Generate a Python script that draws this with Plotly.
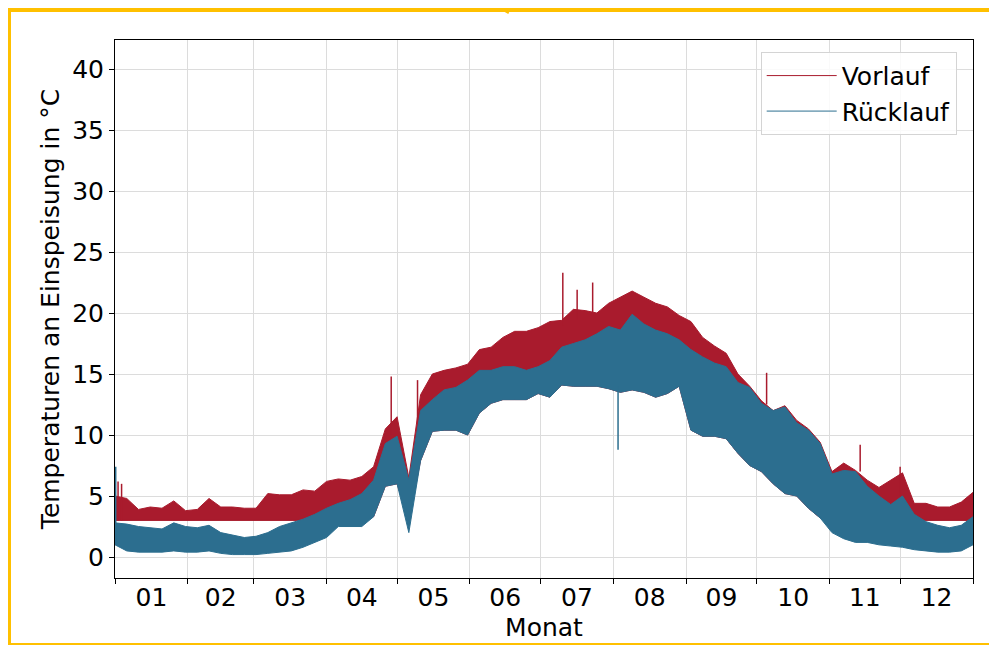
import plotly.graph_objects as go
import pandas as pd

# ---------------- data ----------------
YEAR_START = "2021-01-01"
# sample days (every 5 days through the year, plus the year end)
days = list(range(0, 365, 5)) + [365]

# Vorlauf (supply) upper / lower envelope in degC
vorlauf_max = [5.0, 4.8, 3.9, 4.1, 4.0, 4.6, 3.8, 3.9, 4.8, 4.1,
               4.1, 4.0, 4.0, 5.2, 5.1, 5.1, 5.5, 5.4, 6.2, 6.4,
               6.3, 6.6, 7.4, 10.5, 11.5, 6.5, 13.3, 15.0, 15.3, 15.5,
               15.8, 17.0, 17.2, 18.0, 18.5, 18.5, 18.8, 19.3, 19.4, 20.3,
               20.2, 20.0, 20.8, 21.3, 21.8, 21.3, 20.8, 20.5, 19.8, 19.3,
               18.0, 17.3, 16.7, 15.0, 14.0, 12.8, 12.0, 12.4, 11.2, 10.5,
               9.4, 7.0, 7.7, 7.1, 6.3, 5.7, 6.3, 6.9, 4.4, 4.4,
               4.1, 4.1, 4.5, 5.3]
vorlauf_min = [3.0, 3.0, 3.0, 3.0, 3.0, 3.0, 3.0, 3.0, 3.0, 3.0,
               3.0, 3.0, 3.0, 3.0, 3.0, 3.0, 3.0, 3.0, 3.0, 3.0,
               3.0, 3.0, 3.3, 5.8, 6.0, 3.0, 7.9, 10.3, 10.4, 10.4,
               10.0, 11.8, 12.6, 12.9, 12.9, 12.9, 13.4, 13.1, 14.1, 14.0,
               14.0, 14.0, 13.8, 13.5, 13.7, 13.5, 13.1, 13.4, 14.0, 10.4,
               9.9, 9.9, 9.7, 8.5, 7.5, 7.0, 6.0, 5.2, 5.0, 4.0,
               3.2, 3.0, 3.0, 3.0, 3.0, 3.0, 3.0, 3.0, 3.0, 3.0,
               3.0, 3.0, 3.0, 3.0]

# Ruecklauf (return) upper / lower envelope in degC
ruecklauf_max = [2.8, 2.7, 2.5, 2.4, 2.3, 2.8, 2.5, 2.4, 2.6, 2.0,
                 1.8, 1.6, 1.7, 2.0, 2.5, 2.8, 3.1, 3.5, 4.0, 4.4,
                 4.7, 5.2, 6.3, 9.3, 9.9, 6.3, 12.0, 12.9, 13.7, 13.9,
                 14.5, 15.3, 15.3, 15.6, 15.6, 15.3, 15.6, 16.1, 17.2, 17.5,
                 17.8, 18.3, 18.9, 18.6, 19.9, 19.1, 18.6, 18.3, 17.8, 17.0,
                 16.4, 15.9, 15.6, 14.3, 13.9, 12.6, 12.0, 12.3, 11.0, 10.4,
                 9.3, 6.8, 7.1, 7.0, 5.8, 5.0, 4.3, 5.0, 3.5, 2.9,
                 2.6, 2.4, 2.6, 3.3]
ruecklauf_min = [1.0, 0.5, 0.4, 0.4, 0.4, 0.5, 0.4, 0.4, 0.5, 0.3,
                 0.2, 0.2, 0.2, 0.3, 0.4, 0.5, 0.8, 1.2, 1.6, 2.5,
                 2.5, 2.5, 3.3, 5.8, 6.0, 2.0, 7.9, 10.3, 10.4, 10.4,
                 10.0, 11.8, 12.6, 12.9, 12.9, 12.9, 13.4, 13.1, 14.1, 14.0,
                 14.0, 14.0, 13.8, 13.5, 13.7, 13.5, 13.1, 13.4, 14.0, 10.4,
                 9.9, 9.9, 9.7, 8.5, 7.5, 7.0, 6.0, 5.2, 5.0, 4.0,
                 3.2, 2.0, 1.5, 1.2, 1.2, 1.0, 0.9, 0.8, 0.6, 0.5,
                 0.4, 0.4, 0.5, 1.0]

# single short peaks (day of year, low end, high end)
vorlauf_spike_days = [1.3, 2.8, 117.5, 128.7, 190.5, 196.6, 203.2, 277.2, 317.0, 334.0]
vorlauf_spike_lo = [3.0, 3.0, 10.0, 11.0, 19.0, 19.5, 19.8, 12.5, 7.0, 5.0]
vorlauf_spike_hi = [6.2, 6.0, 14.8, 14.5, 23.3, 21.9, 22.5, 15.1, 9.2, 7.4]
ruecklauf_spike_days = [0.3, 214.0]
ruecklauf_spike_lo = [1.0, 8.8]
ruecklauf_spike_hi = [7.4, 14.0]

y_ticks = [0, 5, 10, 15, 20, 25, 30, 35, 40]

RED = "#A91B2D"
BLUE = "#2C6E8F"

BASE = pd.Timestamp(YEAR_START)


def to_dates(ds):
    return [(BASE + pd.Timedelta(days=float(d))).strftime("%Y-%m-%d %H:%M:%S") for d in ds]


def spike_xy(ds, lo, hi):
    xs, ys = [], []
    for d, a, b in zip(ds, lo, hi):
        t = to_dates([d])[0]
        xs += [t, t, None]
        ys += [a, b, None]
    return xs, ys


x = to_dates(days)
fig = go.Figure()

# Vorlauf band
fig.add_trace(go.Scatter(x=x, y=vorlauf_max, mode="lines", name="Vorlauf",
                         line=dict(color=RED, width=1), legendgroup="v"))
fig.add_trace(go.Scatter(x=x, y=vorlauf_min, mode="lines", showlegend=False,
                         line=dict(color=RED, width=1), fill="tonexty",
                         fillcolor=RED, legendgroup="v"))
sx, sy = spike_xy(vorlauf_spike_days, vorlauf_spike_lo, vorlauf_spike_hi)
fig.add_trace(go.Scatter(x=sx, y=sy, mode="lines", showlegend=False,
                         line=dict(color=RED, width=1.5), connectgaps=False))

# Ruecklauf band
fig.add_trace(go.Scatter(x=x, y=ruecklauf_max, mode="lines", name="Rücklauf",
                         line=dict(color=BLUE, width=1), legendgroup="r"))
fig.add_trace(go.Scatter(x=x, y=ruecklauf_min, mode="lines", showlegend=False,
                         line=dict(color=BLUE, width=1), fill="tonexty",
                         fillcolor=BLUE, legendgroup="r"))
sx, sy = spike_xy(ruecklauf_spike_days, ruecklauf_spike_lo, ruecklauf_spike_hi)
fig.add_trace(go.Scatter(x=sx, y=sy, mode="lines", showlegend=False,
                         line=dict(color=BLUE, width=1.5), connectgaps=False))

# the page body has an 8 px margin: the figure is shifted by it
OFF = 8
fig.update_layout(
    width=997 - OFF, height=645 - OFF,
    margin=dict(l=115 - OFF, r=24, t=40 - OFF, b=67, autoexpand=False),
    paper_bgcolor="white", plot_bgcolor="white",
    font=dict(family="DejaVu Sans", size=25, color="black"),
    legend=dict(x=0.981, xanchor="right", y=0.978, yanchor="top",
                bgcolor="rgba(255,255,255,0.85)", bordercolor="#d4d4d4",
                borderwidth=1, font=dict(size=25), tracegroupgap=0,
                itemwidth=70),
    xaxis=dict(type="date", range=["2021-01-01", "2022-01-01"],
               tick0="2021-01-01", dtick="M1", tickformat="%m",
               ticklabelmode="period", ticks="outside", ticklen=5,
               tickcolor="black", showgrid=True, gridcolor="#dcdcdc",
               gridwidth=1, showline=True, linecolor="black", linewidth=1,
               mirror=True, tickfont=dict(size=25), automargin=False,
               ticklabelstandoff=-8,
               title=dict(text="Monat", font=dict(size=25), standoff=7)),
    yaxis=dict(range=[-1.72, 42.38], tickvals=y_ticks,
               ticktext=[str(v) for v in y_ticks], ticks="outside",
               ticklen=5, tickcolor="black", showgrid=True,
               gridcolor="#dcdcdc", gridwidth=1, zeroline=False,
               showline=True, linecolor="black", linewidth=1, mirror=True,
               tickfont=dict(size=25), automargin=False,
               title=dict(text="Temperaturen an Einspeisung in °C",
                          font=dict(size=25), standoff=5)),
)

# orange frame around the figure (positions in screen pixels -> paper)
PW, PH, L, T = 858.0, 538.0, 115.0, 40.0


def px(xp):
    return (xp - L) / PW


def py(yp):
    return (T + PH - yp) / PH


fig.add_shape(type="rect", xref="paper", yref="paper",
              x0=px(7), x1=px(1005), y0=py(647), y1=py(8),
              line=dict(color="#FFC000", width=8), layer="above")
fig.add_shape(type="line", xref="paper", yref="paper",
              x0=px(506.5), y0=py(13), x1=px(513.5), y1=py(-1),
              line=dict(color="#FFC000", width=4), layer="above")

fig.write_html("out.html")
